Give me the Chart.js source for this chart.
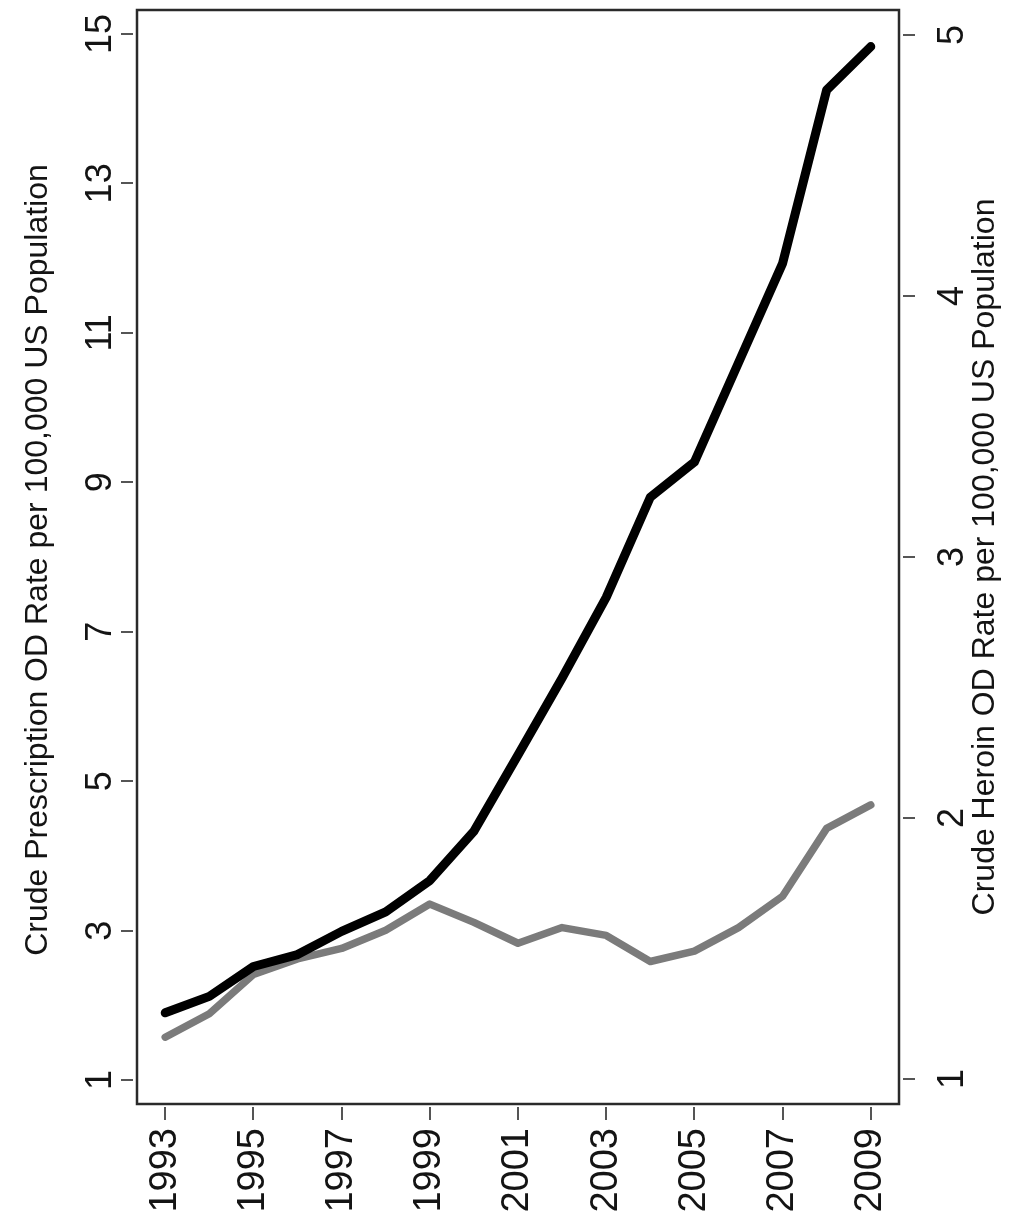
<!DOCTYPE html>
<html>
<head>
<meta charset="utf-8">
<style>
  html, body { margin: 0; padding: 0; background: #ffffff; }
  #wrap { width: 1015px; height: 1226px; }
</style>
<script src="https://cdn.jsdelivr.net/npm/chart.js@4/dist/chart.umd.min.js"></script>
</head>
<body>
<div id="wrap"><canvas id="c" width="1015" height="1226"></canvas></div>
<script>
// Years on the horizontal axis
const years = [1993, 1994, 1995, 1996, 1997, 1998, 1999, 2000, 2001,
               2002, 2003, 2004, 2005, 2006, 2007, 2008, 2009];
// Crude prescription overdose rate per 100,000 (left axis)
const prescriptionRate = [1.90, 2.12, 2.52, 2.68, 2.99, 3.25, 3.67, 4.33, 5.35,
                          6.38, 7.46, 8.80, 9.27, 10.60, 11.93, 14.25, 14.83];
// Crude heroin overdose rate per 100,000 (right axis)
const heroinRate = [1.16, 1.25, 1.40, 1.46, 1.50, 1.57, 1.67, 1.60, 1.52,
                    1.58, 1.55, 1.45, 1.49, 1.58, 1.70, 1.96, 2.05];
// Tick values
const yearTicks = [1993, 1995, 1997, 1999, 2001, 2003, 2005, 2007, 2009];
const leftTicks = [1, 3, 5, 7, 9, 11, 13, 15];
const rightTicks = [1, 2, 3, 4, 5];
// Axis titles
const leftTitle = 'Crude Prescription OD Rate per 100,000 US Population';
const rightTitle = 'Crude Heroin OD Rate per 100,000 US Population';

const FONT = '"Liberation Sans", Arial, Helvetica, sans-serif';
const TEXT = '#141414';

// Frame, detached tick marks, rotated tick labels and axis titles
const framePlugin = {
  id: 'frameAndLabels',
  afterDraw(chart) {
    const ctx = chart.ctx;
    const a = chart.chartArea;
    const xs = chart.scales.x, yl = chart.scales.yL, yr = chart.scales.yR;
    ctx.save();
    ctx.strokeStyle = '#2a2a2a';
    ctx.lineWidth = 2.5;
    ctx.strokeRect(a.left, a.top, a.right - a.left, a.bottom - a.top);

    // tick marks, set slightly off the frame
    ctx.strokeStyle = '#555';
    ctx.lineWidth = 2;
    ctx.beginPath();
    leftTicks.forEach(v => {
      const y = Math.round(yl.getPixelForValue(v));
      ctx.moveTo(a.left - 16, y); ctx.lineTo(a.left - 4, y);
    });
    rightTicks.forEach(v => {
      const y = Math.round(yr.getPixelForValue(v));
      ctx.moveTo(a.right + 4, y); ctx.lineTo(a.right + 16, y);
    });
    yearTicks.forEach(v => {
      const x = Math.round(xs.getPixelForValue(v));
      ctx.moveTo(x, a.bottom + 3); ctx.lineTo(x, a.bottom + 16);
    });
    ctx.stroke();

    ctx.fillStyle = TEXT;
    // left and right tick labels, reading bottom to top
    ctx.font = '36px ' + FONT;
    ctx.textAlign = 'center';
    ctx.textBaseline = 'middle';
    leftTicks.forEach(v => {
      const y = yl.getPixelForValue(v);
      ctx.save(); ctx.translate(a.left - 36, y); ctx.rotate(-Math.PI / 2);
      ctx.fillText(String(v), 0, 0); ctx.restore();
    });
    rightTicks.forEach(v => {
      const y = yr.getPixelForValue(v);
      ctx.save(); ctx.translate(a.right + 54, y); ctx.rotate(-Math.PI / 2);
      ctx.fillText(String(v), 0, 0); ctx.restore();
    });
    // year labels
    ctx.font = '38px ' + FONT;
    ctx.textAlign = 'right';
    yearTicks.forEach(v => {
      const x = xs.getPixelForValue(v);
      ctx.save(); ctx.translate(x, a.bottom + 24); ctx.rotate(-Math.PI / 2);
      ctx.fillText(String(v), 0, 0); ctx.restore();
    });
    // axis titles
    ctx.font = '32px ' + FONT;
    ctx.textAlign = 'center';
    const midY = (a.top + a.bottom) / 2;
    ctx.save(); ctx.translate(38, midY + 3); ctx.rotate(-Math.PI / 2);
    ctx.fillText(leftTitle, 0, 0); ctx.restore();
    ctx.save(); ctx.translate(985, midY); ctx.rotate(-Math.PI / 2);
    ctx.fillText(rightTitle, 0, 0); ctx.restore();
    ctx.restore();
  }
};

const noGrid = { display: false };

new Chart(document.getElementById('c'), {
  type: 'line',
  data: {
    datasets: [
      {
        label: 'Prescription',
        data: years.map((yr, i) => ({ x: yr, y: prescriptionRate[i] })),
        yAxisID: 'yL',
        borderColor: '#000000',
        borderWidth: 9,
        borderCapStyle: 'round',
        borderJoinStyle: 'round',
        pointRadius: 0,
        tension: 0,
        fill: false
      },
      {
        label: 'Heroin',
        data: years.map((yr, i) => ({ x: yr, y: heroinRate[i] })),
        yAxisID: 'yR',
        borderColor: '#7b7b7b',
        borderWidth: 7.5,
        borderCapStyle: 'round',
        borderJoinStyle: 'round',
        pointRadius: 0,
        tension: 0,
        fill: false
      }
    ]
  },
  options: {
    responsive: false,
    animation: false,
    layout: { padding: { top: 10, left: 0, right: 0, bottom: 0 } },
    plugins: { legend: { display: false }, tooltip: { enabled: false }, title: { display: false } },
    scales: {
      x: {
        type: 'linear',
        min: 1992.36,
        max: 2009.64,
        afterBuildTicks: s => { s.ticks = yearTicks.map(v => ({ value: v })); },
        afterFit: s => { s.height = 122; },
        ticks: { display: false },
        grid: noGrid,
        border: { display: false }
      },
      yL: {
        type: 'linear',
        position: 'left',
        min: 0.68,
        max: 15.32,
        afterBuildTicks: s => { s.ticks = leftTicks.map(v => ({ value: v })); },
        afterFit: s => { s.width = 137; },
        ticks: { display: false },
        grid: noGrid,
        border: { display: false }
      },
      yR: {
        type: 'linear',
        position: 'right',
        min: 0.904,
        max: 5.096,
        afterBuildTicks: s => { s.ticks = rightTicks.map(v => ({ value: v })); },
        afterFit: s => { s.width = 116; },
        ticks: { display: false },
        grid: noGrid,
        border: { display: false }
      }
    }
  },
  plugins: [framePlugin]
});
</script>
</body>
</html>
